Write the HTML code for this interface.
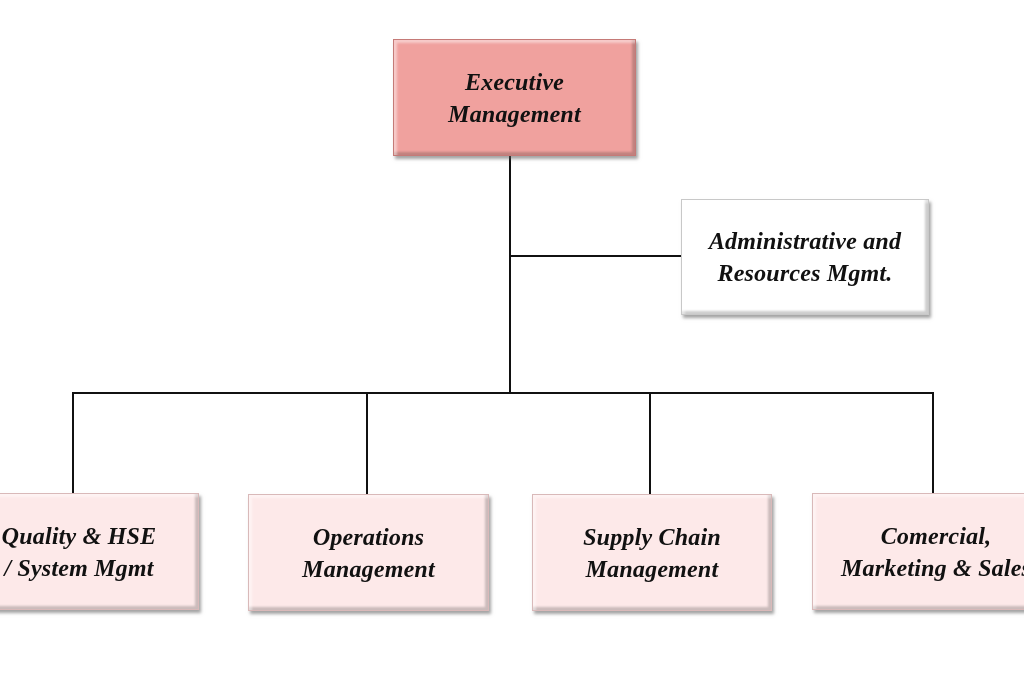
<!DOCTYPE html>
<html><head><meta charset="utf-8"><style>
html,body{margin:0;padding:0;background:#fff;}
body{width:1024px;height:683px;position:relative;overflow:hidden;font-family:"Liberation Serif",serif;}
.b{position:absolute;box-sizing:border-box;display:flex;align-items:center;justify-content:center;text-align:center;font-weight:bold;font-style:italic;font-size:24px;line-height:32px;color:#111;letter-spacing:0.2px;white-space:nowrap;
box-shadow:2px 3px 3px rgba(90,90,90,0.55), inset 3px 3px 2px rgba(255,255,255,0.45), inset -3px -3px 2px rgba(0,0,0,0.2);}
.ex{background:#f0a19e;border:1px solid #c57a77;}
.ad{background:#fff;border:1px solid #c8c8c8;}
.lo{background:#fde9e9;border:1px solid #d9b9b9;}
.l{position:absolute;background:#111;}
</style></head><body>
<div class="l" style="left:509px;top:155px;width:2px;height:239px"></div>
<div class="l" style="left:510px;top:255px;width:172px;height:2px"></div>
<div class="l" style="left:72px;top:392px;width:862px;height:2px"></div>
<div class="l" style="left:72px;top:392px;width:2px;height:102px"></div>
<div class="l" style="left:366px;top:392px;width:2px;height:102px"></div>
<div class="l" style="left:649px;top:392px;width:2px;height:102px"></div>
<div class="l" style="left:932px;top:392px;width:2px;height:102px"></div>

<div class="b ex" style="left:393px;top:39px;width:243px;height:117px;padding-top:3px">Executive<br>Management</div>
<div class="b ad" style="left:681px;top:199px;width:248px;height:116px;padding-top:2px">Administrative and<br>Resources Mgmt.</div>
<div class="b lo" style="left:-41px;top:493px;width:240px;height:117px;padding-top:2px">Quality &amp; HSE<br>/ System Mgmt</div>
<div class="b lo" style="left:248px;top:494px;width:241px;height:117px;padding-top:2px">Operations<br>Management</div>
<div class="b lo" style="left:532px;top:494px;width:240px;height:117px;padding-top:2px">Supply Chain<br>Management</div>
<div class="b lo" style="left:812px;top:493px;width:250px;height:117px;justify-content:flex-start;padding-left:28px;padding-top:2px"><div style="text-align:center">Comercial,<br>Marketing &amp; Sales</div></div>
</body></html>
